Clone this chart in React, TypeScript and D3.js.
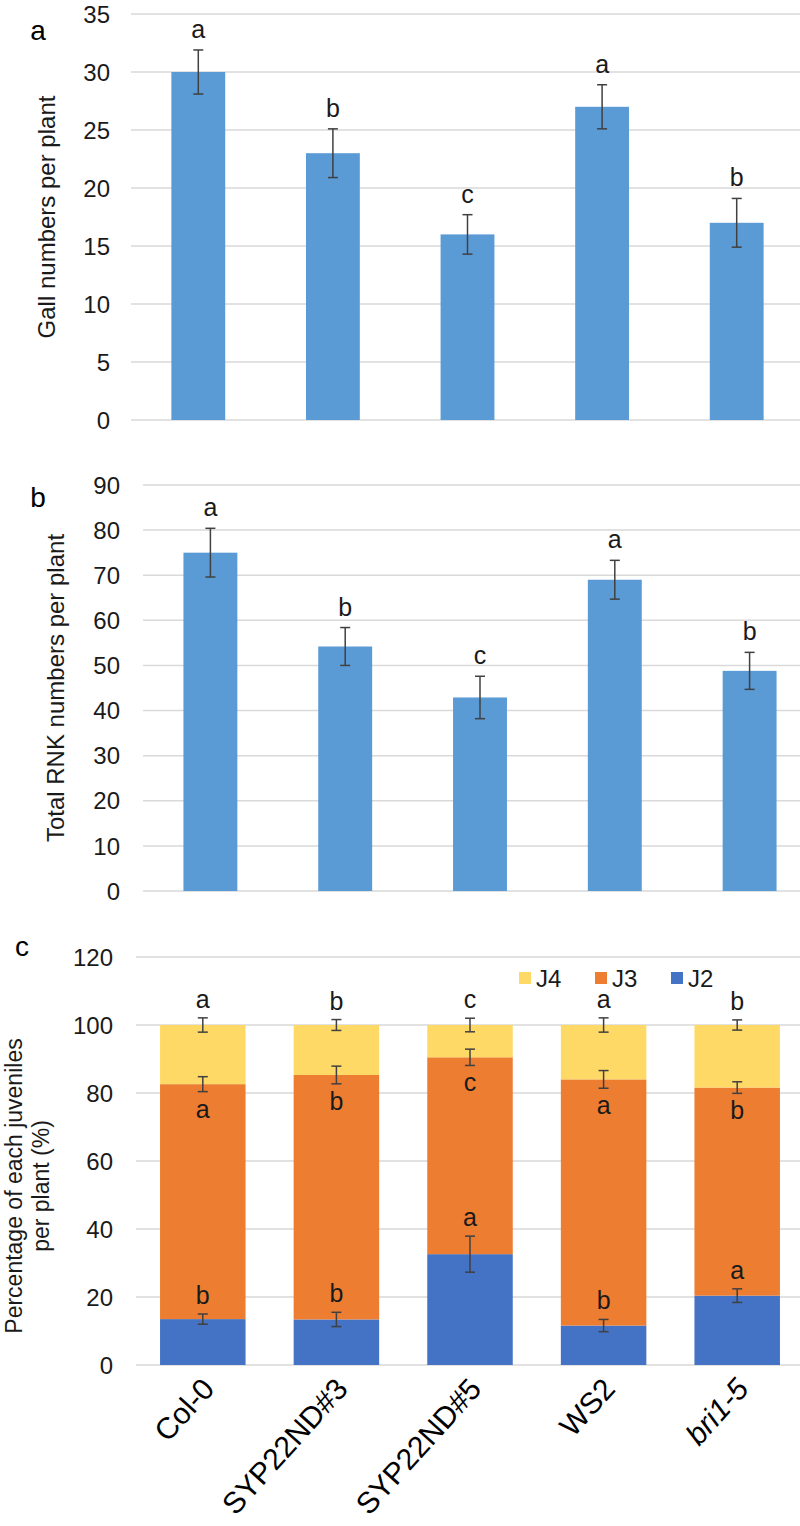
import { scaleBand, scaleLinear, stack } from "d3";

const categories = ["Col-0", "SYP22ND#3", "SYP22ND#5", "WS2", "bri1-5"];
const italicCategories = ["bri1-5"];

// panel a
const gallMeans = [30, 23, 16, 27, 17];
const gallErrors = [1.9, 2.1, 1.7, 1.9, 2.1];
const gallLetters = ["a", "b", "c", "a", "b"];
const gallTicks = [0, 5, 10, 15, 20, 25, 30, 35];

// panel b
const rnkMeans = [75, 54.2, 42.9, 69, 48.8];
const rnkErrors = [5.4, 4.2, 4.7, 4.3, 4.1];
const rnkLetters = ["a", "b", "c", "a", "b"];
const rnkTicks = [0, 10, 20, 30, 40, 50, 60, 70, 80, 90];

// panel c
const stages = ["J2", "J3", "J4"];
const j2Values = [13.5, 13.4, 32.6, 11.6, 20.4];
const j3Values = [69.1, 71.9, 57.9, 72.4, 61.2];
const j4Values = [17.4, 14.7, 9.5, 16.0, 18.4];
const j2Errors = [1.5, 2.1, 5.3, 1.8, 2.0];
const j3Errors = [2.2, 2.6, 2.4, 2.6, 1.7];
const j4Errors = [2.1, 1.6, 2.0, 2.1, 1.5];
const j2Letters = ["b", "b", "a", "b", "a"];
const j3Letters = ["a", "b", "c", "a", "b"];
const j4Letters = ["a", "b", "c", "a", "b"];
const pctTicks = [0, 20, 40, 60, 80, 100, 120];

const FONT = "'Liberation Sans', Arial, sans-serif";
const TXT = "#1a1a1a";
const GRID = "#d9d9d9";
const ERR = "#404040";
const BAR = "#5B9BD5";
const stageColor: Record<string, string> = { J2: "#4472C4", J3: "#ED7D31", J4: "#FFD966" };

function ErrorBar({ x, y1, y2 }: { x: number; y1: number; y2: number }) {
  return (
    <g stroke={ERR} strokeWidth={1.5}>
      <line x1={x} x2={x} y1={y1} y2={y2} />
      <line x1={x - 5} x2={x + 5} y1={y1} y2={y1} />
      <line x1={x - 5} x2={x + 5} y1={y2} y2={y2} />
    </g>
  );
}

function YGrid({ ticks, y, x0, x1, labelX }: { ticks: number[]; y: (v: number) => number; x0: number; x1: number; labelX: number }) {
  return (
    <g>
      {ticks.map((t) => (
        <g key={t}>
          <line x1={x0} x2={x1} y1={y(t)} y2={y(t)} stroke={GRID} strokeWidth={1.5} />
          <text x={labelX} y={y(t)} dy="0.36em" textAnchor="end" fontSize={24} fill={TXT}>
            {t}
          </text>
        </g>
      ))}
    </g>
  );
}

function BarPanel({
  means, errors, letters, ticks, top, bottom, left, right, labelX, title, titleX, panel, panelY,
}: {
  means: number[]; errors: number[]; letters: string[]; ticks: number[];
  top: number; bottom: number; left: number; right: number; labelX: number;
  title: string; titleX: number; panel: string; panelY: number;
}) {
  const x = scaleBand<string>().domain(categories).range([left, right]).paddingInner(0.6).paddingOuter(0.3);
  const y = scaleLinear().domain([0, ticks[ticks.length - 1]]).range([bottom, top]);
  return (
    <g>
      <text x={38} y={panelY} textAnchor="middle" fontSize={28} fill="#000">{panel}</text>
      <text
        transform={`translate(${titleX},${(top + bottom) / 2}) rotate(-90)`}
        textAnchor="middle" fontSize={24} fill={TXT}
      >
        {title}
      </text>
      <YGrid ticks={ticks} y={y} x0={left} x1={800} labelX={labelX} />
      {categories.map((c, i) => {
        const cx = (x(c) ?? 0) + x.bandwidth() / 2;
        return (
          <g key={c}>
            <rect x={x(c)} width={x.bandwidth()} y={y(means[i])} height={y(0) - y(means[i])} fill={BAR} />
            <ErrorBar x={cx} y1={y(means[i] + errors[i])} y2={y(means[i] - errors[i])} />
            <text x={cx} y={y(means[i] + errors[i]) - 12} textAnchor="middle" fontSize={25} fill={TXT}>
              {letters[i]}
            </text>
          </g>
        );
      })}
    </g>
  );
}

function StackPanel() {
  const top = 957, bottom = 1365, left = 136, right = 804;
  const x = scaleBand<string>().domain(categories).range([left, right]).paddingInner(0.36).paddingOuter(0.18);
  const y = scaleLinear().domain([0, 120]).range([bottom, top]);
  const rows = categories.map((c, i) => ({ cat: c, J2: j2Values[i], J3: j3Values[i], J4: j4Values[i] }));
  const series = stack<any>().keys(stages)(rows);
  const errs: Record<string, number[]> = { J2: j2Errors, J3: j3Errors, J4: j4Errors };
  const letters: Record<string, string[]> = { J2: j2Letters, J3: j3Letters, J4: j4Letters };
  const legendOrder = ["J4", "J3", "J2"];
  const legendX = scaleBand<string>().domain(legendOrder).range([519, 747]);

  return (
    <g>
      <text x={22} y={956} textAnchor="middle" fontSize={28} fill="#000">c</text>
      <text transform={`translate(22,1186) rotate(-90)`} textAnchor="middle" fontSize={23} fill={TXT}>
        Percentage of each juveniles
      </text>
      <text transform={`translate(49,1186) rotate(-90)`} textAnchor="middle" fontSize={23} fill={TXT}>
        per plant (%)
      </text>
      <YGrid ticks={pctTicks} y={y} x0={left} x1={800} labelX={113} />
      {series.map((s) => (
        <g key={s.key} fill={stageColor[s.key]}>
          {s.map((d, i) => (
            <rect key={i} x={x(categories[i])} width={x.bandwidth()} y={y(d[1])} height={y(d[0]) - y(d[1])} />
          ))}
        </g>
      ))}
      {series.map((s) =>
        s.map((d, i) => {
          const cx = (x(categories[i]) ?? 0) + x.bandwidth() / 2;
          const e = errs[s.key][i];
          const ly = s.key === "J3" ? y(d[1] - e) + 26 : y(d[1] + e) - 10;
          return (
            <g key={s.key + i}>
              <ErrorBar x={cx} y1={y(d[1] + e)} y2={y(d[1] - e)} />
              <text x={cx} y={ly} textAnchor="middle" fontSize={25} fill={TXT}>
                {letters[s.key][i]}
              </text>
            </g>
          );
        })
      )}
      {legendOrder.map((k) => (
        <g key={k} transform={`translate(${legendX(k)},978)`}>
          <rect x={0} y={-6} width={12} height={12} fill={stageColor[k]} />
          <text x={17} y={0} dy="0.36em" fontSize={24} fill={TXT}>{k}</text>
        </g>
      ))}
      {categories.map((c) => {
        const cx = (x(c) ?? 0) + x.bandwidth() / 2;
        return (
          <text
            key={c}
            transform={`translate(${cx + 13},1390) rotate(-48)`}
            textAnchor="end" fontSize={30}
            fontStyle={italicCategories.includes(c) ? "italic" : "normal"}
            fill="#000"
          >
            {c}
          </text>
        );
      })}
    </g>
  );
}

export default function App() {
  return (
    <svg
      width={800}
      height={1526}
      viewBox="0 0 800 1526"
      style={{ position: "absolute", left: 0, top: 0, background: "#fff", fontFamily: FONT }}
    >
      <rect width={800} height={1526} fill="#fff" />
      <BarPanel
        means={gallMeans} errors={gallErrors} letters={gallLetters} ticks={gallTicks}
        top={14} bottom={420} left={131} right={804} labelX={110}
        title="Gall numbers per plant" titleX={55} panel="a" panelY={40}
      />
      <BarPanel
        means={rnkMeans} errors={rnkErrors} letters={rnkLetters} ticks={rnkTicks}
        top={485} bottom={891} left={143} right={817} labelX={120}
        title="Total RNK numbers per plant" titleX={64} panel="b" panelY={507}
      />
      <StackPanel />
    </svg>
  );
}
